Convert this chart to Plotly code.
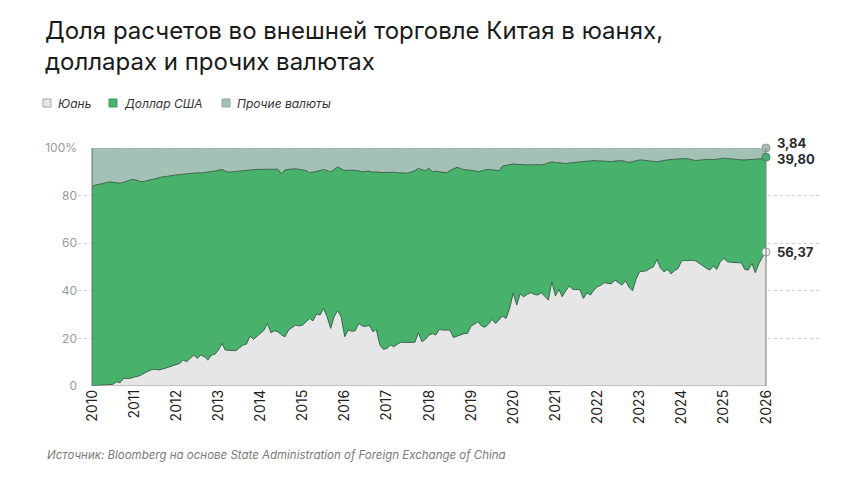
import pandas as pd
import plotly.graph_objects as go

# ---- data (shares, %) monthly Jan 2010 .. Jan 2026 ----
dates = pd.date_range("2010-01-01", periods=193, freq="MS")

yuan = [
    0.1, 0.2, 0.3, 0.4, 0.5, 0.6, 0.7, 1.8, 1.4, 3.2, 3.3, 3.2,
    3.8, 4.0, 4.6, 5.5, 6.2, 6.8, 7.0, 6.7, 7.0, 7.5, 8.0, 8.4,
    8.8, 9.5, 10.9, 10.2, 11.6, 13.0, 11.6, 13.0, 12.3, 10.9, 13.0, 13.3,
    15.1, 17.9, 15.1, 15.0, 15.2, 14.8, 16.0, 17.2, 17.6, 21.0, 19.6, 21.0,
    22.1, 23.5, 26.3, 22.4, 23.2, 22.8, 21.5, 20.7, 23.5, 24.5, 25.6, 25.2,
    25.6, 27.0, 28.4, 27.4, 30.3, 29.8, 32.6, 29.1, 24.2, 29.1, 31.6, 29.1,
    20.7, 23.5, 23.0, 23.2, 26.3, 25.2, 25.0, 25.6, 22.8, 23.8, 17.2, 15.4,
    15.8, 17.2, 16.5, 17.5, 18.4, 18.3, 18.2, 18.3, 18.4, 22.4, 18.6, 19.6,
    21.4, 22.0, 21.4, 23.8, 23.5, 23.6, 23.5, 20.4, 21.0, 21.7, 22.0, 22.1,
    25.2, 26.0, 27.0, 25.2, 24.7, 26.0, 28.0, 26.3, 27.7, 29.4, 28.4, 32.6,
    39.0, 34.0, 38.7, 37.5, 38.5, 39.2, 38.5, 38.2, 39.2, 37.8, 36.1, 43.8,
    37.8, 40.6, 37.5, 40.0, 42.0, 40.6, 40.6, 40.5, 36.8, 39.2, 38.2, 40.3,
    41.7, 42.4, 43.4, 43.0, 42.9, 44.5, 43.5, 42.4, 44.2, 41.5, 40.0, 44.8,
    48.0, 48.2, 48.4, 49.4, 50.1, 53.2, 49.5, 48.0, 49.0, 47.1, 48.5, 49.4,
    52.6, 52.7, 52.9, 52.8, 52.6, 51.5, 50.8, 49.5, 48.7, 50.4, 49.0, 52.2,
    53.6, 52.2, 52.0, 51.8, 51.8, 51.8, 49.0, 48.7, 51.5, 47.6, 51.5, 54.1,
    56.37,
]

other = [
    16.2, 15.5, 15.3, 15.1, 14.6, 14.2, 14.5, 14.7, 14.8, 14.4, 13.8, 13.4,
    13.2, 13.7, 14.2, 14.0, 13.5, 13.2, 13.0, 12.5, 12.1, 12.0, 11.7, 11.5,
    11.3, 11.2, 11.0, 10.9, 10.8, 10.6, 10.4, 10.5, 10.2, 10.1, 9.9, 9.7,
    9.5, 9.0, 9.7, 10.2, 10.0, 9.8, 9.7, 9.5, 9.4, 9.2, 9.1, 9.0,
    9.0, 8.9, 8.8, 8.8, 8.8, 8.9, 10.9, 9.2, 9.0, 8.9, 8.7, 9.0,
    9.2, 9.5, 10.4, 10.2, 10.0, 9.5, 9.0, 9.6, 10.0, 9.0, 7.9, 8.8,
    9.5, 9.3, 9.2, 9.4, 9.6, 10.0, 9.8, 9.7, 10.2, 10.0, 10.3, 10.2,
    10.4, 10.3, 10.2, 10.4, 10.3, 10.5, 10.6, 10.2, 9.5, 8.5, 9.2, 9.5,
    8.5, 10.0, 9.7, 10.0, 10.2, 10.4, 9.5, 8.8, 8.1, 8.6, 9.1, 9.2,
    9.3, 9.6, 10.0, 9.5, 9.2, 9.0, 9.1, 9.4, 9.5, 7.6, 7.2, 7.0,
    6.7, 6.9, 7.0, 7.1, 7.1, 7.0, 7.1, 7.2, 7.1, 6.8, 6.4, 5.8,
    6.1, 6.3, 6.4, 6.5, 6.3, 6.1, 6.1, 6.0, 5.8, 5.6, 5.4, 5.3,
    5.4, 5.5, 5.7, 5.8, 5.7, 5.5, 5.4, 5.3, 5.7, 6.1, 5.7, 5.3,
    5.0, 5.1, 5.2, 5.4, 5.7, 5.8, 5.5, 5.2, 5.0, 4.8, 4.7, 4.5,
    4.3, 4.4, 4.6, 5.0, 5.3, 5.1, 4.9, 4.8, 4.7, 4.9, 4.6, 4.4,
    4.3, 4.4, 4.6, 4.7, 4.9, 5.0, 5.0, 4.9, 4.9, 4.8, 4.7, 4.5,
    3.84,
]

usd = [round(100 - y - o, 2) for y, o in zip(yuan, other)]

series_names = ["Юань", "Доллар США", "Прочие валюты"]
end_labels = ["56,37", "39,80", "3,84"]
year_ticks = list(range(2010, 2027))
y_ticks = [0, 20, 40, 60, 80, 100]
y_tick_text = ["0", "20", "40", "60", "80", "100%"]

# ---- style ----
C_YUAN = "#e6e6e6"
C_USD = "#48b16b"
C_OTHER = "#a3c1b4"
C_EDGE = "#2e5a42"
FONT = "Inter"

W, H = 860, 484
ML, MR, MT, MB = 78, 38, 148, 98
PW, PH = W - ML - MR, H - MT - MB


def px_to_paper(px, py):
    return (px - ML) / PW, (H - MB - py) / PH


fig = go.Figure()
fills = [C_YUAN, C_USD, C_OTHER]
vals = [yuan, usd, other]
for i, (nm, v, col) in enumerate(zip(series_names, vals, fills)):
    line = dict(color=C_EDGE, width=0.9)
    if i == 2:
        line = dict(color="#8c9a93", width=1, dash="3px,2px")
    fig.add_trace(go.Scatter(
        x=dates, y=v, name=nm, stackgroup="one", mode="lines",
        line=line, fillcolor=col, showlegend=False, hoverinfo="skip",
    ))

# end markers and labels
last = dates[-1]
cum = [yuan[-1], yuan[-1] + usd[-1], yuan[-1] + usd[-1] + other[-1]]
marker_fill = ["#f2f2f2", C_USD, C_OTHER]
marker_line = ["#9a9a9a", "#2f8a50", "#8a9a93"]
fig.add_trace(go.Scatter(
    x=[last] * 3, y=cum, mode="markers", showlegend=False, hoverinfo="skip",
    marker=dict(size=8, color=marker_fill, line=dict(color=marker_line, width=1)),
    cliponaxis=False,
))
yshifts = [0, -2, 5]
for c, t, ys in zip(cum, end_labels, yshifts):
    fig.add_annotation(x=last, y=c, text=f"<b>{t}</b>", showarrow=False,
                       xanchor="left", yanchor="middle", xshift=9, yshift=ys,
                       font=dict(family=FONT, size=13, color="#2b2b2b"))

# frame lines at the data edges
fig.add_shape(type="line", x0=dates[0], x1=last, y0=0, y1=0,
              line=dict(color="#9a9a9a", width=1.2), layer="above")
fig.add_shape(type="line", x0=last, x1=last, y0=0, y1=100,
              line=dict(color="#7f8a84", width=1.2), layer="above")
fig.add_shape(type="line", x0=dates[0], x1=dates[0], y0=0, y1=100,
              line=dict(color="#5d6b63", width=1), layer="above")

# legend (manual, placed like the reference)
legend_px = [47, 113, 226]
legend_y = 103
legend_outline = ["#a8a8a8", "#3f9a5e", "#8fa89d"]
for nm, col, oc, lx in zip(series_names, fills, legend_outline, legend_px):
    cx, cy = px_to_paper(lx, legend_y)
    fig.add_shape(type="rect", xref="paper", yref="paper",
                  xsizemode="pixel", ysizemode="pixel", xanchor=cx, yanchor=cy,
                  x0=-4, x1=4, y0=-4, y1=4,
                  fillcolor=col, line=dict(color=oc, width=1))
    tx, ty = px_to_paper(lx + 9, legend_y)
    fig.add_annotation(xref="paper", yref="paper", x=tx, y=ty, text=f"<i>{nm}</i>",
                       showarrow=False, xanchor="left", yanchor="middle",
                       font=dict(family=FONT, size=12, color="#333"))

sx, sy = px_to_paper(45, 455)
fig.add_annotation(
    xref="paper", yref="paper", x=sx, y=sy, xanchor="left", yanchor="middle",
    text="<i>Источник: Bloomberg на основе State Administration of Foreign Exchange of China</i>",
    showarrow=False, font=dict(family=FONT, size=11.5, color="#7a7a7a"),
)

fig.update_layout(
    width=W, height=H,
    margin=dict(l=ML, r=MR, t=MT, b=MB),
    paper_bgcolor="white", plot_bgcolor="white",
    font=dict(family=FONT, color="#222"),
    title=dict(
        text="Доля расчетов во внешней торговле Китая в юанях,<br>долларах и прочих валютах",
        x=45 / W, xanchor="left", xref="container",
        y=1 - 39 / H, yanchor="top", yref="container",
        font=dict(family=FONT, size=24, color="#1a1a1a"),
    ),
    showlegend=False,
)

fig.update_xaxes(
    type="date", range=["2009-09-01", "2027-05-02"],
    tickvals=[pd.Timestamp(f"{y}-01-01") for y in year_ticks],
    ticktext=[str(y) for y in year_ticks],
    tickangle=-90, tickfont=dict(family=FONT, size=14, color="#222"),
    showgrid=False, zeroline=False, showline=False, ticks="",
)
fig.update_yaxes(
    range=[0, 100], tickvals=y_ticks, ticktext=y_tick_text,
    tickfont=dict(family=FONT, size=12, color="#9a9a9a"),
    showgrid=True, gridcolor="#cfcfcf", griddash="3px,3px", gridwidth=1,
    zeroline=False, showline=False, ticks="",
)

fig.write_html("out.html")
